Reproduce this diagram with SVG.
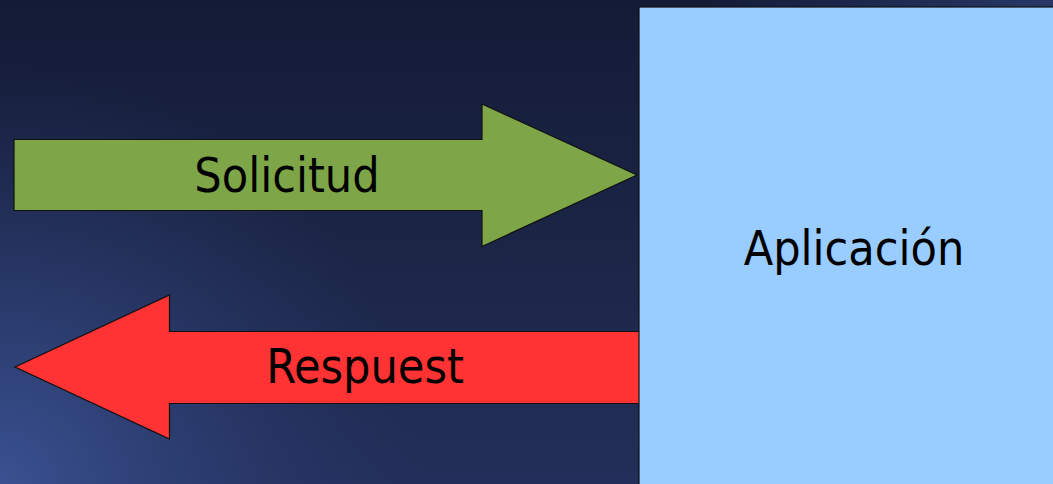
<svg xmlns="http://www.w3.org/2000/svg" width="1053" height="484" viewBox="0 0 1053 484">
<defs>
<linearGradient id="bg" x1="0" y1="0" x2="0" y2="1">
<stop offset="0" stop-color="#141b37"/>
<stop offset="0.5" stop-color="#1b2546"/>
<stop offset="1" stop-color="#232f5a"/>
</linearGradient>
<radialGradient id="bl" cx="0" cy="484" r="420" gradientUnits="userSpaceOnUse">
<stop offset="0" stop-color="#3a5292" stop-opacity="1"/>
<stop offset="1" stop-color="#2a3a6e" stop-opacity="0"/>
</radialGradient>
<radialGradient id="tr" cx="1053" cy="0" r="350" gradientUnits="userSpaceOnUse">
<stop offset="0" stop-color="#2a3a6c" stop-opacity="0.9"/>
<stop offset="1" stop-color="#2a3a6c" stop-opacity="0"/>
</radialGradient>
</defs>
<style>
.lbl{font-family:"DejaVu Sans Condensed","DejaVu Sans",sans-serif;font-stretch:condensed;font-size:48px;fill:#000;text-anchor:middle}
.shape{stroke:#111;stroke-width:1.2}
</style>
<rect width="1053" height="484" fill="url(#bg)"/>
<rect width="1053" height="484" fill="url(#tr)"/>
<rect width="1053" height="484" fill="url(#bl)"/>
<g id="connectors">
<g id="solicitud">
<polygon class="shape" fill="#7ea649" points="14,139.5 482,139.5 482,104 637,175 482,246.5 482,210.5 14,210.5"/>
<text class="lbl" x="287" y="192">Solicitud</text>
</g>
<g id="respuesta">
<polygon class="shape" fill="#ff3333" points="640,331.5 169.5,331.5 169.5,295 15,367 169.5,439 169.5,403.5 640,403.5"/>
<text class="lbl" x="365" y="383">Respuest</text>
</g>
</g>
<g id="aplicacion">
<rect class="shape" x="639" y="7" width="420" height="490" fill="#99ccff"/>
<text class="lbl" x="854" y="265">Aplicación</text>
</g>
</svg>
